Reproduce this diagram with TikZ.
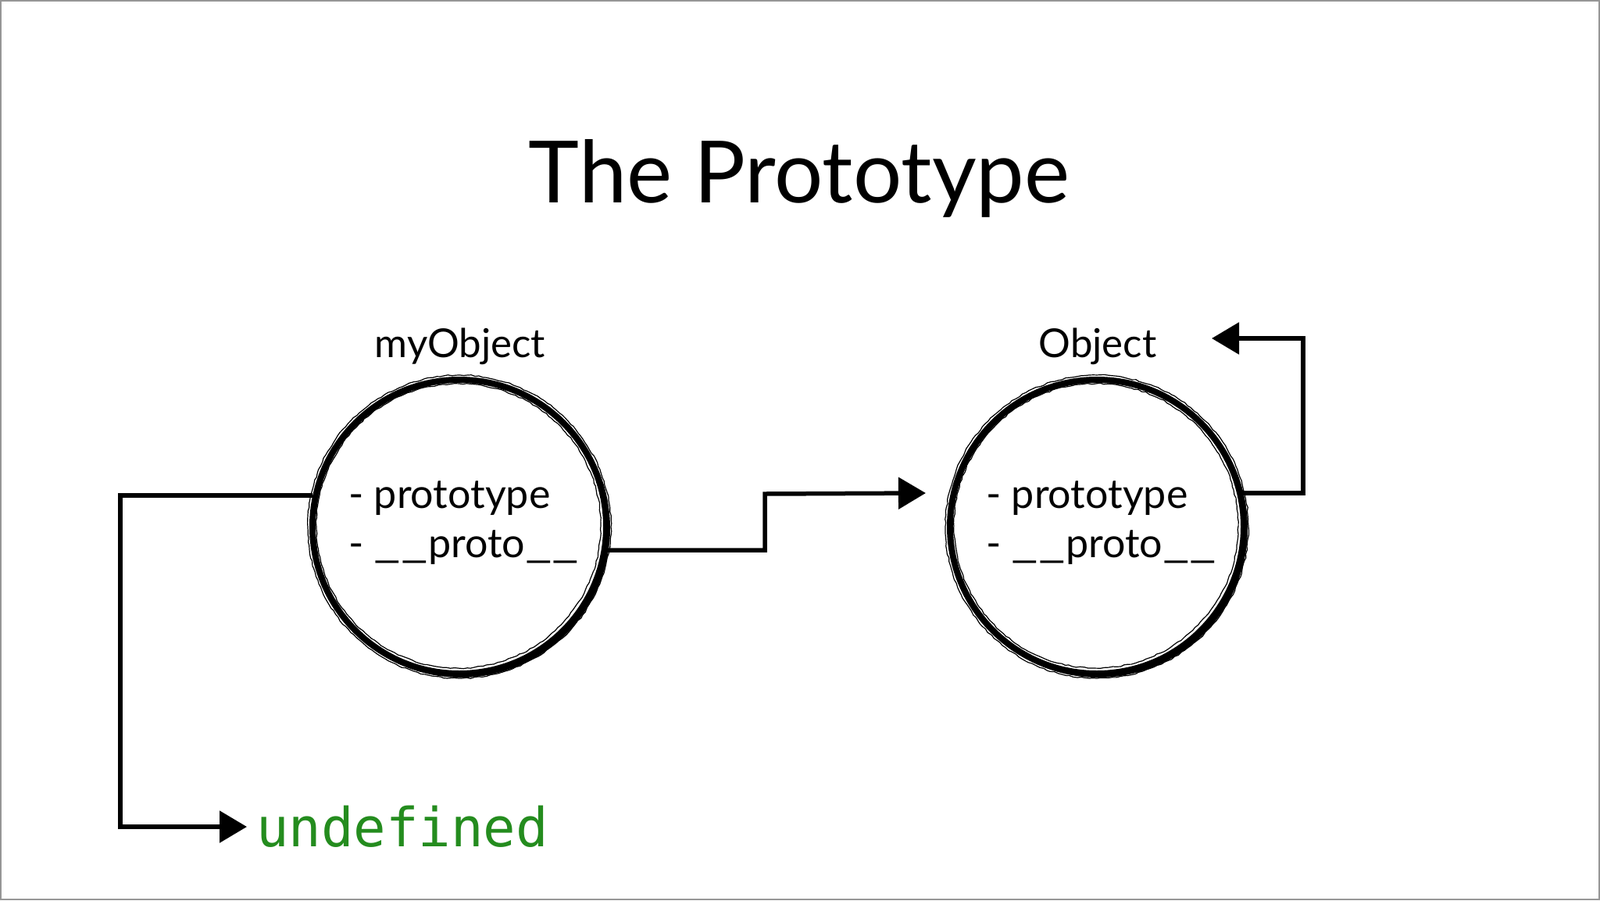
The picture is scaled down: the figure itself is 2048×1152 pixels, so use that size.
\documentclass[tikz,border=0pt]{standalone}
\usepackage{fontspec}
\setmainfont{Lato}
\newfontfamily\codefont{DejaVu Sans Mono}
\usetikzlibrary{arrows.meta,calc,decorations.pathmorphing}
\definecolor{codegreen}{RGB}{36,140,30}
\definecolor{framegray}{RGB}{150,150,150}
\newcommand{\longus}{\scalebox{1.45}[1]{\_\_}}
\tikzset{
 ring/.style={circle, draw=black, line width=8pt, minimum size=376pt, inner sep=0pt},
 brush/.style={draw=black, line width=1.2pt, decorate, decoration={random steps, segment length=5pt, amplitude=0.8pt}},
 conn/.style={draw=black, line width=5.5pt, line join=miter, -{Triangle[length=35pt,width=40pt]}},
 lbl/.style={font=\fontsize{51}{60}\selectfont, anchor=base, inner sep=0pt},
 item/.style={font=\fontsize{52}{60}\selectfont, anchor=base west, inner sep=0pt},
 code/.style={font=\codefont\fontsize{69}{80}\selectfont, text=codegreen, anchor=west, inner sep=0pt},
}
\begin{document}
\begin{tikzpicture}[x=1pt,y=-1pt]
\useasboundingbox (0,0) rectangle (2048,1152);
\fill[white] (0,0) rectangle (2048,1152);
\draw[framegray, line width=2pt] (1,1) rectangle (2047,1151);

% title
\node[font=\fontsize{110}{130}\selectfont, anchor=base, inner sep=0pt] (title) at (1023,259) {The Prototype};

% circles
\node[ring] (c1) at (588,674) {};
\node[ring] (c2) at (1404,674) {};
\foreach \cx in {588,1404}{
  \draw[line width=4pt] (\cx+2,676) circle[radius=189];
  \draw[brush] (\cx,674) circle[radius=194];
  \draw[brush] (\cx-1,673) circle[radius=182];
}

% labels
\node[lbl] (l1) at (589,457) {myObject};
\node[lbl] (l2) at (1405,457) {Object};
\node[item] (p1) at (446,650) {- prototype};
\node[item] (q1) at (446,713) {- \longus proto\longus};
\node[item] (p2) at (1262,650) {- prototype};
\node[item] (q2) at (1262,713) {- \longus proto\longus};
\node[code] (undef) at (328,1058) {undefined};

% connectors
\coordinate (t3) at (1551,433);
\draw[conn, shorten >=12pt] (c1.168) -| (154,1058) -- (undef.west);
\draw[conn, shorten >=32pt] (c1.-9.5) -| (979,632) -- (c2.167);
\draw[conn] (c2.13) -| (1668,433) -- (t3);
\end{tikzpicture}
\end{document}
